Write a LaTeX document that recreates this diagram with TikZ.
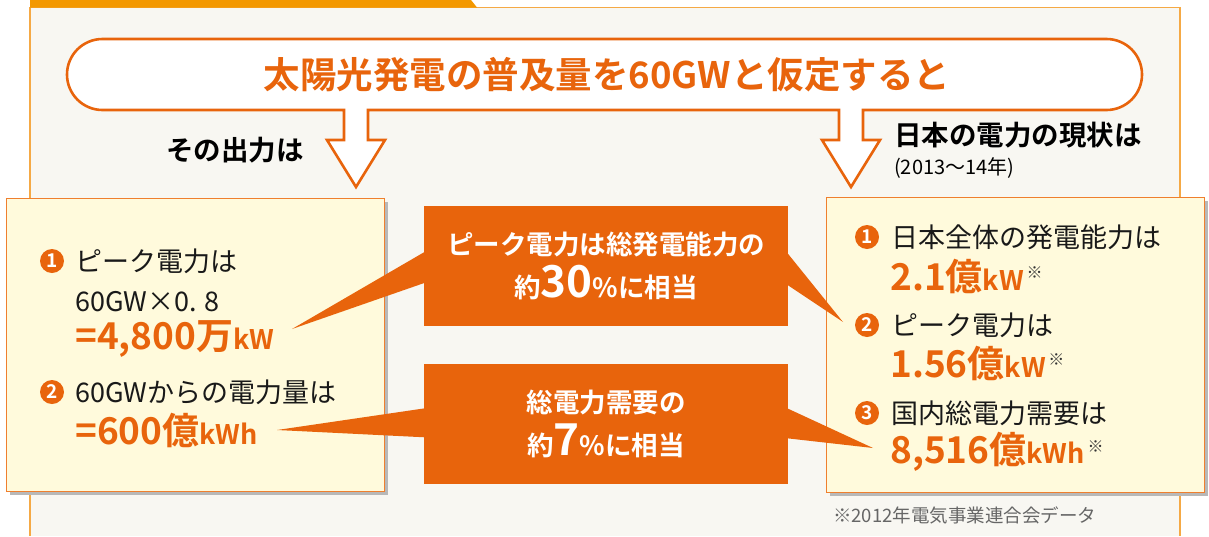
\documentclass[tikz,border=0pt]{standalone}
\usepackage{fontspec}
\setmainfont{Noto Sans CJK JP}[BoldFont={Noto Sans CJK JP Bold}]
\usetikzlibrary{calc,shadows}
\definecolor{org}{HTML}{E8640C}
\definecolor{barorg}{HTML}{F39800}
\definecolor{frameorg}{HTML}{F5A945}
\definecolor{cream}{HTML}{FFFADC}
\definecolor{bgc}{HTML}{F8F7F2}
\definecolor{boxline}{HTML}{EF7F2E}
\newcommand\unitsm[1]{{\fontsize{27}{27}\selectfont #1}}
\newcommand\komej{\raisebox{0.55ex}{\mdseries\fontsize{16}{16}\selectfont\color{black!80}\,※}}
\begin{document}
\begin{tikzpicture}[x=1pt,y=-1pt,
 infobox/.style={draw=boxline, line width=1.3pt, fill=cream, anchor=north west, inner sep=0pt,
   drop shadow={shadow xshift=3pt, shadow yshift=-3pt, fill=black!28, opacity=1}},
 numdot/.style={circle, fill=org, text=white, inner sep=0pt, minimum size=24pt, font=\bfseries\fontsize{19}{19}\selectfont},
 bodytxt/.style={anchor=west, inner sep=0pt, text=black!90, font=\fontsize{27}{30}\selectfont},
 valtxt/.style={anchor=west, inner sep=0pt, text=org, font=\bfseries\fontsize{37}{39}\selectfont},
 callbox/.style={fill=org, text=white, inner sep=0pt, minimum width=364pt, minimum height=120pt, align=center, font=\bfseries\fontsize{26.5}{43}\selectfont},
 headtxt/.style={inner sep=0pt, text=black, font=\bfseries\fontsize{27.5}{30}\selectfont}]
\useasboundingbox (0,0) rectangle (1209,536);
\fill[white] (0,0) rectangle (1209,536);
% frame
\fill[bgc] (30,7.5) rectangle (1180,536);
\draw[frameorg, line width=1.5pt] (30,536) -- (30,7.5) -- (1180,7.5) -- (1180,536);
\fill[barorg] (30,0) -- (471,0) -- (477,7.5) -- (30,7.5) -- cycle;
% title with two hollow arrows
\path[draw=org, line width=2.6pt, fill=white, line join=miter]
 (102.5,39) -- (1106.5,39) arc[start angle=-90, end angle=90, radius=35.5]
 -- (863,110) -- (863,140) -- (880,140) -- (851,187) -- (822,140) -- (839,140) -- (839,110)
 -- (368,110) -- (368,140) -- (385,140) -- (356,187) -- (327,140) -- (344,140) -- (344,110)
 -- (102.5,110) arc[start angle=90, end angle=270, radius=35.5] -- cycle;
\node[inner sep=0pt, text=org, font=\bfseries\fontsize{36.5}{40}\selectfont] (title) at (607,75) {太陽光発電の普及量を60GWと仮定すると};
\node[headtxt] (outp) at (235,150) {その出力は};
\node[headtxt, anchor=west] (now) at (894,135) {日本の電力の現状は};
\node[anchor=west, inner sep=0pt, font=\fontsize{20}{22}\selectfont] (year) at (894,168) {(2013～14年)};
% left box
\node[infobox, minimum width=378pt, minimum height=293pt] (lbox) at (6,198) {};
\node[numdot] (ln1) at (52,261) {1};
\node[bodytxt] (lt1) at (75,261) {ピーク電力は};
\node[bodytxt] (lt2) at (75,302) {60GW×0. 8};
\node[valtxt] (lv1) at (75,339) {=4,800万\unitsm{kW}};
\node[numdot] (ln2) at (52,392) {2};
\node[bodytxt] (lt3) at (75,392) {60GWからの電力量は};
\node[valtxt] (lv2) at (75,430) {=600億\unitsm{kWh}};
% right box
\node[infobox, minimum width=378pt, minimum height=295pt] (rbox) at (826,197) {};
\node[numdot] (rn1) at (867,237) {1};
\node[bodytxt] (rt1) at (891,237) {日本全体の発電能力は};
\node[valtxt] (rv1) at (890,276) {2.1億\unitsm{kW}\komej};
\node[numdot] (rn2) at (867,325) {2};
\node[bodytxt] (rt2) at (891,325) {ピーク電力は};
\node[valtxt] (rv2) at (890,363) {1.56億\unitsm{kW}\komej};
\node[numdot] (rn3) at (867,413) {3};
\node[bodytxt] (rt3) at (891,413) {国内総電力需要は};
\node[valtxt] (rv3) at (890,452) {8,516億\unitsm{kWh}\komej};
\node[anchor=west, inner sep=0pt, text=black!60, font=\fontsize{18.5}{20}\selectfont] (note) at (833,515) {※2012年電気事業連合会データ};
% callouts
\coordinate (p1l) at (292,329);
\coordinate (p1r) at (843,322);
\coordinate (p2l) at (277,430);
\coordinate (p2r) at (873,448);
\node[callbox] (c1) at (606,266) {ピーク電力は総発電能力の\\約{\fontsize{44}{44}\selectfont 30}\%に相当};
\node[callbox] (c2) at (606,423.5) {総電力需要の\\約{\fontsize{44}{44}\selectfont 7}\%に相当};
\fill[org] ($(c1.north west)+(1,46)$) -- (p1l) -- ($(c1.north west)+(1,77)$) -- cycle;
\fill[org] ($(c1.north east)+(-1,47)$) -- (p1r) -- ($(c1.north east)+(-1,79)$) -- cycle;
\fill[org] ($(c2.north west)+(1,45)$) -- (p2l) -- ($(c2.north west)+(1,74)$) -- cycle;
\fill[org] ($(c2.north east)+(-1,45)$) -- (p2r) -- ($(c2.north east)+(-1,75)$) -- cycle;
\end{tikzpicture}
\end{document}
